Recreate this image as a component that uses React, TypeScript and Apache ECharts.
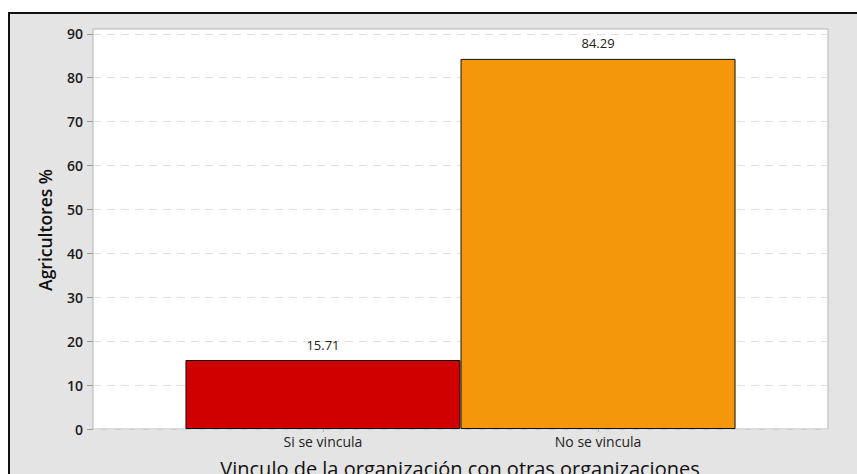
import React, { useEffect, useRef } from "react";
import * as echarts from "echarts";

const categories = ["Si se vincula", "No se vincula"];
const values = [15.71, 84.29];
const barColors = ["#d10000", "#f4970a"];
const yTicks = [0, 10, 20, 30, 40, 50, 60, 70, 80, 90];
const xName = "Vinculo de la organización con otras organizaciones";
const yName = "Agricultores %";

export default function App() {
  const ref = useRef<HTMLDivElement>(null);
  useEffect(() => {
    if (!ref.current) return;
    const chart = echarts.init(ref.current, null, { renderer: "svg" });
    const font = "'Open Sans', 'Noto Sans', sans-serif";
    chart.setOption({
      animation: false,
      graphic: [
        {
          type: "rect",
          z: -10,
          silent: true,
          shape: { x: 9, y: 13, width: 900, height: 500 },
          style: { fill: "#e4e4e4", stroke: "#111", lineWidth: 2 },
        },
        {
          type: "text",
          x: 460,
          y: 468,
          style: {
            text: xName,
            font: `20px ${font}`,
            fill: "#111",
            align: "center",
            verticalAlign: "middle",
          },
        },
        {
          type: "text",
          x: 45,
          y: 230,
          rotation: Math.PI / 2,
          style: {
            text: yName,
            font: `600 17.5px ${font}`,
            fill: "#111",
            align: "center",
            verticalAlign: "middle",
          },
        },
      ],
      grid: {
        left: 93,
        right: 29,
        top: 29,
        bottom: 45,
        show: true,
        backgroundColor: "#ffffff",
        borderColor: "#b4b4b4",
        borderWidth: 1,
      },
      xAxis: {
        type: "value",
        min: 0.164,
        max: 2.836,
        axisLine: { show: false },
        splitLine: { show: false },
        axisTick: {
          show: true,
          customValues: [1, 2],
          length: 3,
          lineStyle: { color: "#b4b4b4" },
        },
        axisLabel: {
          customValues: [1, 2],
          formatter: (v: number) => categories[Math.round(v) - 1] ?? "",
          fontFamily: font,
          fontSize: 14,
          color: "#222",
          margin: 5,
        },
      },
      yAxis: {
        type: "value",
        min: 0,
        max: 91.1,
        axisLine: { show: false },
        axisTick: {
          show: true,
          customValues: yTicks,
          length: 6,
          lineStyle: { color: "#9a9a9a" },
        },
        axisLabel: {
          customValues: yTicks,
          fontFamily: font,
          fontSize: 14,
          fontWeight: 600,
          color: "#1a1a1a",
          margin: 10,
        },
        splitLine: {
          show: true,
          lineStyle: { color: "#e0e0e0", type: [8, 6], width: 1 },
        },
      },
      series: [
        {
          type: "bar",
          barWidth: 275,
          data: values.map((v, i) => ({
            value: [i + 1, v],
            itemStyle: { color: barColors[i], borderColor: "#111", borderWidth: 1 },
          })),
          label: {
            show: true,
            position: "top",
            distance: 9,
            formatter: (p: any) => String(p.value[1]),
            fontFamily: font,
            fontSize: 13,
            color: "#222",
          },
        },
      ],
    });
    return () => chart.dispose();
  }, []);
  return (
    <div
      ref={ref}
      style={{ position: "fixed", left: 0, top: 0, width: 857, height: 474, background: "#fff" }}
    />
  );
}
